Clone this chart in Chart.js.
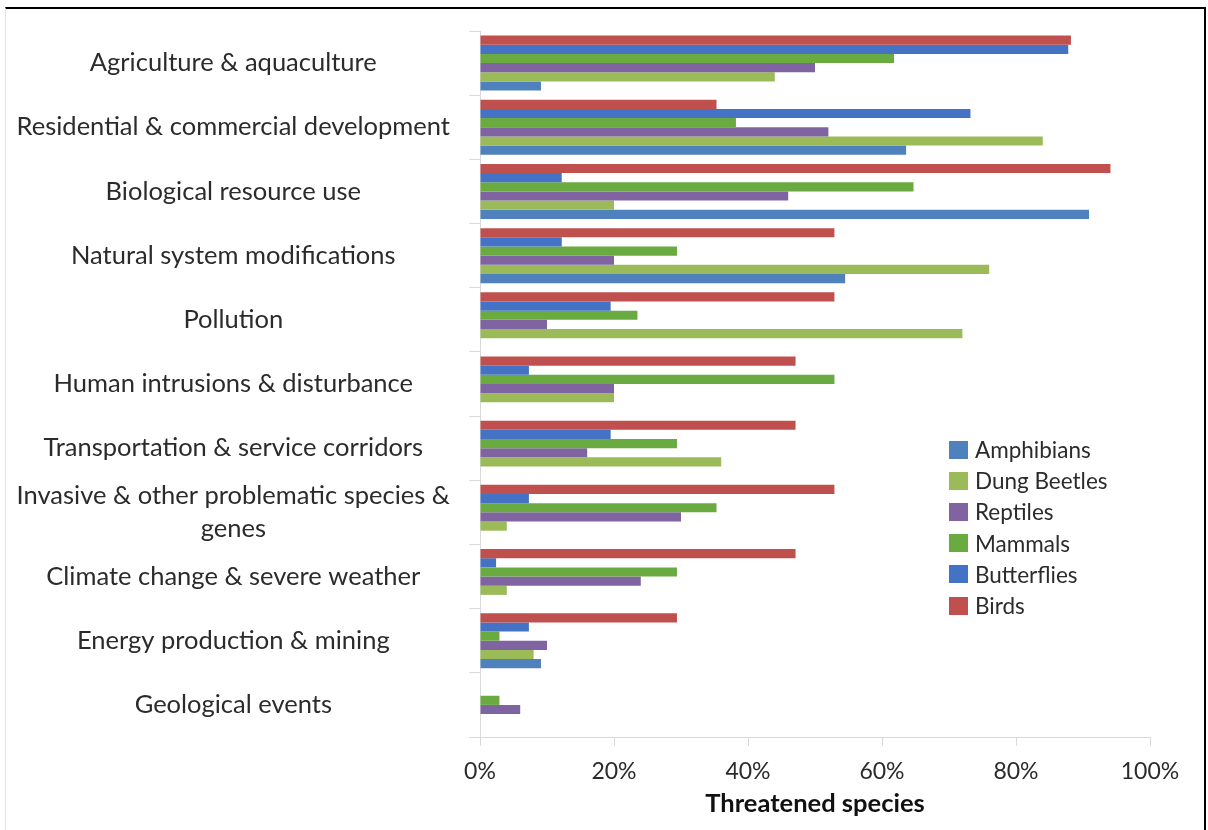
<!DOCTYPE html>
<html>
<head>
<meta charset="utf-8">
<script src="https://cdn.jsdelivr.net/npm/chart.js@4/dist/chart.umd.min.js"></script>
<style>
  html, body { margin: 0; padding: 0; background: #fff; }
  #wrap { position: relative; width: 1208px; height: 830px; overflow: hidden; background: #fff; }
  #chart { position: absolute; left: 0; top: 0; }
  #frame {
    position: absolute; left: 5px; top: 7px; width: 1198px; height: 840px;
    border-top: 2px solid #000; border-right: 2px solid #000; border-left: 1px solid #e4e4e4;
    pointer-events: none;
  }
  #legend {
    position: absolute; left: 949px; top: 434px;
    font-family: Lato, "Open Sans", sans-serif; font-size: 22.5px; color: #2b2b2b;
  }
  #legend .item { height: 31.2px; display: flex; align-items: center; }
  #legend .box { width: 19px; height: 18px; margin-right: 7px; }
</style>
</head>
<body>
<div id="wrap">
  <canvas id="chart" width="1208" height="830"></canvas>
  <div id="frame"></div>
  <div id="legend"></div>
</div>
<script>
// Threat categories (top to bottom)
const categories = [
  'Agriculture & aquaculture',
  'Residential & commercial development',
  'Biological resource use',
  'Natural system modifications',
  'Pollution',
  'Human intrusions & disturbance',
  'Transportation & service corridors',
  ['Invasive & other problematic species &', 'genes'],
  'Climate change & severe weather',
  'Energy production & mining',
  'Geological events'
];

// Share of threatened species affected, in percent
const birds       = [88.2, 35.3, 94.1, 52.9, 52.9, 47.1, 47.1, 52.9, 47.1, 29.4, 0];
const butterflies = [87.8, 73.2, 12.2, 12.2, 19.5, 7.3, 19.5, 7.3, 2.4, 7.3, 0];
const mammals     = [61.8, 38.2, 64.7, 29.4, 23.5, 52.9, 29.4, 35.3, 29.4, 2.9, 2.9];
const reptiles    = [50, 52, 46, 20, 10, 20, 16, 30, 24, 10, 6];
const dungBeetles = [44, 84, 20, 76, 72, 20, 36, 4, 4, 8, 0];
const amphibians  = [9.1, 63.6, 90.9, 54.5, 0, 0, 0, 0, 0, 9.1, 0];

const xTicks = [0, 20, 40, 60, 80, 100];
const xTitle = 'Threatened species';

const FONT = 'Lato, "Open Sans", sans-serif';
const TEXT = '#2b2b2b';
const AXIS = '#d9d9d9';

const series = [
  { label: 'Birds',        data: birds,       color: '#C0504D' },
  { label: 'Butterflies',  data: butterflies, color: '#4472C4' },
  { label: 'Mammals',      data: mammals,     color: '#6AAB41' },
  { label: 'Reptiles',     data: reptiles,    color: '#8064A2' },
  { label: 'Dung Beetles', data: dungBeetles, color: '#9BBB59' },
  { label: 'Amphibians',   data: amphibians,  color: '#4F81BD' }
];

const PAD_BOTTOM = 11;
const PLOT_BOTTOM = 737;

const chart = new Chart(document.getElementById('chart'), {
  type: 'bar',
  data: {
    labels: categories,
    datasets: series.map(s => ({
      label: s.label,
      data: s.data,
      backgroundColor: s.color,
      borderWidth: 0,
      categoryPercentage: 0.857,
      barPercentage: 1.0
    }))
  },
  options: {
    indexAxis: 'y',
    responsive: false,
    animation: false,
    devicePixelRatio: 1,
    layout: { padding: { top: 31, right: 58, bottom: PAD_BOTTOM, left: 0 } },
    plugins: {
      legend: { display: false },
      tooltip: { enabled: false }
    },
    scales: {
      x: {
        min: 0,
        max: 100,
        afterBuildTicks: (scale) => { scale.ticks = xTicks.map(v => ({ value: v })); },
        afterFit: (scale) => { scale.height = 830 - PLOT_BOTTOM - PAD_BOTTOM; },
        ticks: {
          callback: (v) => v + '%',
          color: TEXT,
          padding: 12,
          maxRotation: 0,
          font: { family: FONT, size: 23, lineHeight: 1.2 }
        },
        grid: { drawOnChartArea: false, drawTicks: true, tickLength: 9, color: AXIS },
        border: { color: AXIS },
        title: {
          display: true,
          text: xTitle,
          color: '#111',
          padding: { top: 4, bottom: 0 },
          font: { family: FONT, size: 25.5, weight: 'bold', lineHeight: 1.2 }
        }
      },
      y: {
        afterFit: (scale) => {
          scale.width = 480;
          // labels sit inside their own bands, so no extra room above/below the plot
          scale.paddingTop = 0;
          scale.paddingBottom = 0;
        },
        ticks: {
          crossAlign: 'center',
          color: TEXT,
          padding: 19,
          autoSkip: false,
          font: { family: FONT, size: 25.5, lineHeight: 1.3 }
        },
        grid: { offset: true, drawOnChartArea: false, drawTicks: true, tickLength: 11, color: AXIS },
        border: { color: AXIS }
      }
    }
  }
});

// Legend listed bottom series first, as stacked in each group
const legendEl = document.getElementById('legend');
chart.data.datasets.slice().reverse().forEach(ds => {
  const item = document.createElement('div');
  item.className = 'item';
  const box = document.createElement('span');
  box.className = 'box';
  box.style.background = ds.backgroundColor;
  const txt = document.createElement('span');
  txt.textContent = ds.label;
  item.appendChild(box);
  item.appendChild(txt);
  legendEl.appendChild(item);
});
</script>
</body>
</html>
